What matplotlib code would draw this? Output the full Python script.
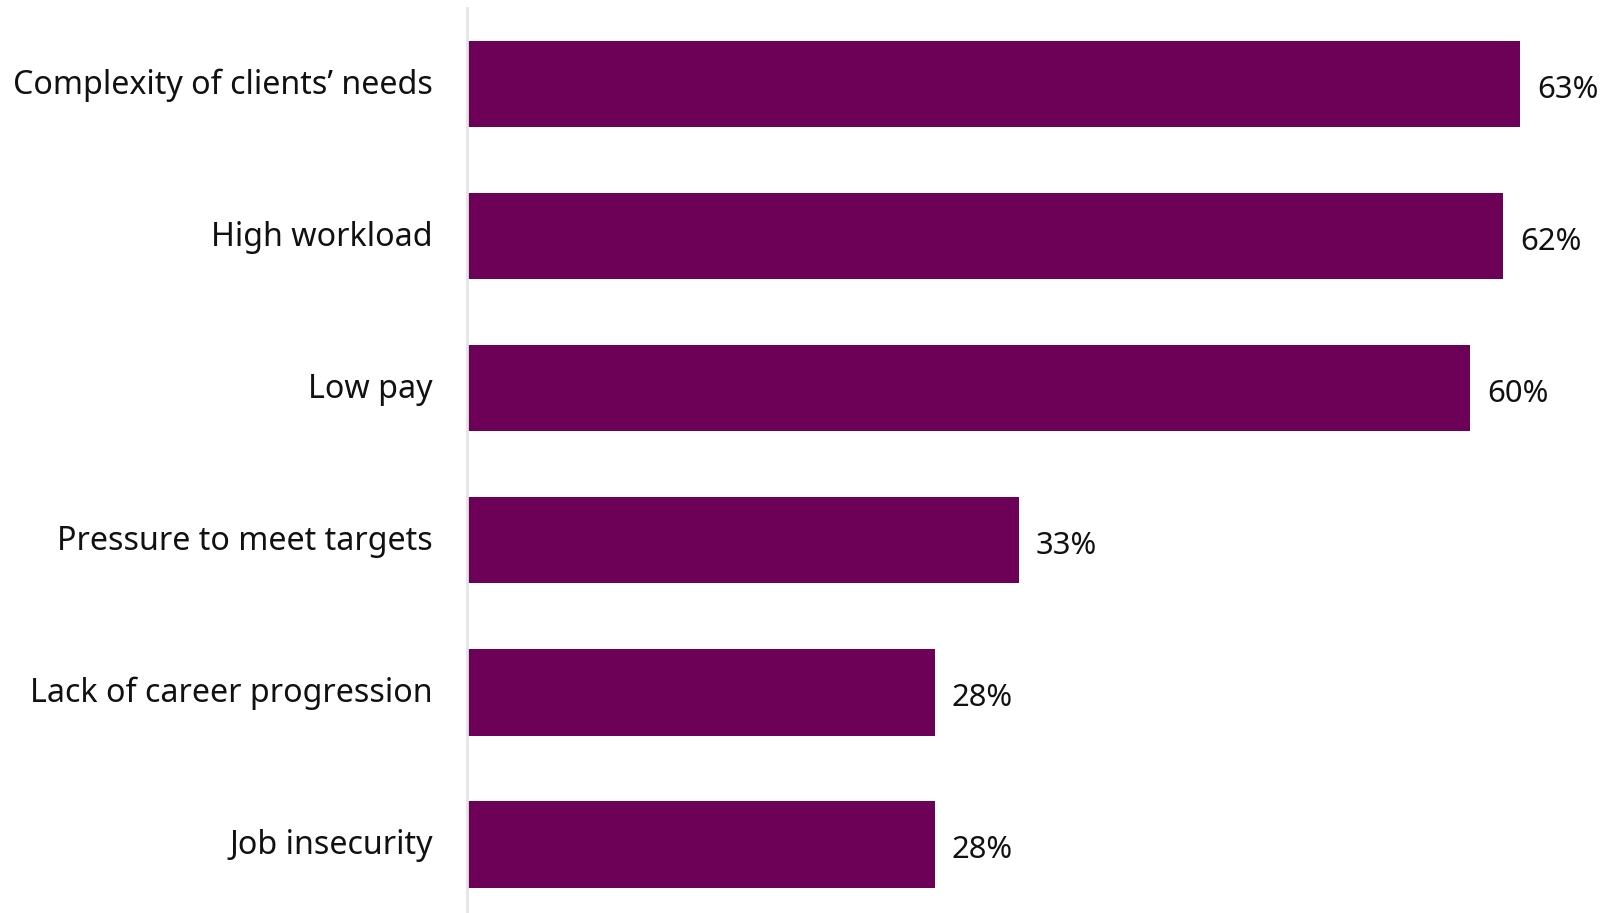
import matplotlib
matplotlib.use("Agg")
import matplotlib.pyplot as plt
from matplotlib.transforms import ScaledTranslation

categories = [
    "Complexity of clients\u2019 needs",
    "High workload",
    "Low pay",
    "Pressure to meet targets",
    "Lack of career progression",
    "Job insecurity",
]
values = [63, 62, 60, 33, 28, 28]
value_labels = [f"{v}%" for v in values]

BAR_COLOR = "#6d0057"
AXIS_COLOR = "#e2e5ea"

plt.rcParams["font.family"] = ["Noto Sans", "DejaVu Sans"]

W, H = 1611, 913
fig = plt.figure(figsize=(W / 100, H / 100), dpi=100)

left_px, zero_px, end_px = 467.0, 467.0, 1520.0
top_px = 8.0
ax = fig.add_axes([left_px / W, 0.0, 1 - left_px / W - 0.01, 1 - top_px / H])
ax_w_px = (1 - left_px / W - 0.01) * W
xmax = 63 * ax_w_px / (end_px - zero_px)

y = list(range(len(categories)))
ax.barh(y, values, height=0.567, color=BAR_COLOR, zorder=2)
ax.set_xlim(0, xmax)
ax.set_ylim(5.45, -0.5)

for yi, v, lab in zip(y, values, value_labels):
    ax.annotate(lab, (v, yi), xytext=(12.2, -1.5), textcoords="offset points",
                ha="left", va="center_baseline", fontsize=22.3, color="#111111")

ax.set_yticks(y)
ax.set_yticklabels(categories, fontsize=23.2, color="#111111")
ax.tick_params(axis="y", length=0, pad=24.5)
# nudge category labels slightly upward
shift = ScaledTranslation(0, 3 / 100, fig.dpi_scale_trans)
for t in ax.get_yticklabels():
    t.set_transform(t.get_transform() + shift)
ax.set_xticks([])
for s in ["top", "right", "bottom"]:
    ax.spines[s].set_visible(False)
ax.spines["left"].set_color(AXIS_COLOR)
ax.spines["left"].set_linewidth(2)

fig.savefig("out.png", dpi=100)
